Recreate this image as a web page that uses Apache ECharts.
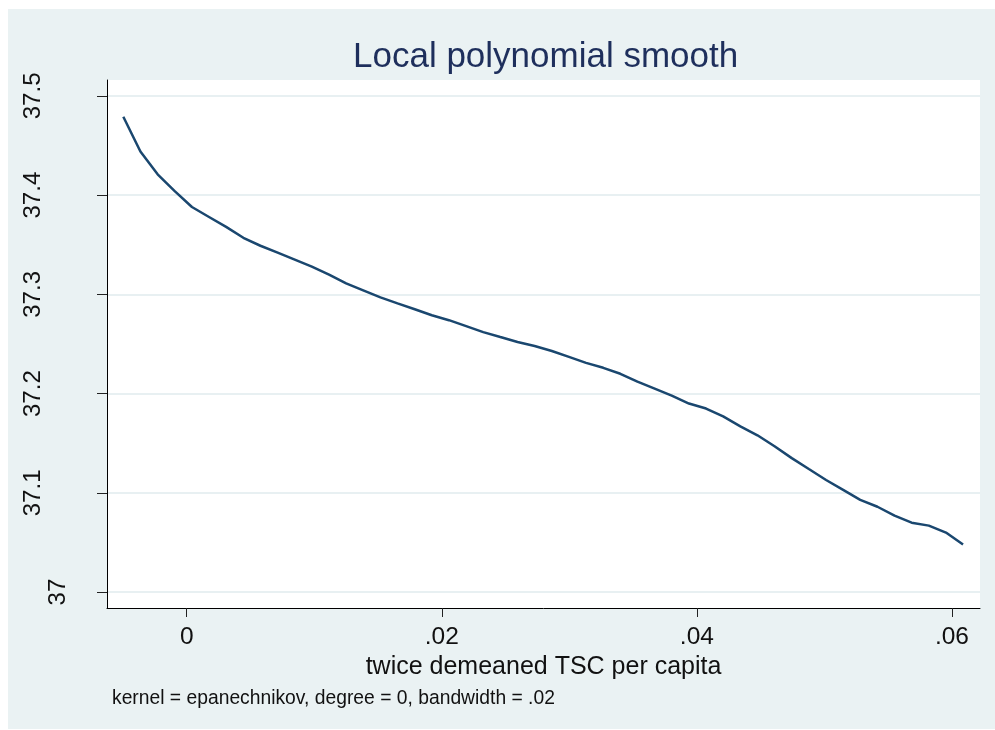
<!DOCTYPE html>
<html>
<head>
<meta charset="utf-8">
<script src="https://cdn.jsdelivr.net/npm/echarts@6/dist/echarts.min.js"></script>
<style>
  html, body { margin: 0; padding: 0; background: #ffffff; }
  #chart { position: absolute; left: 8px; top: 9px; width: 987px; height: 720px; }
</style>
</head>
<body>
<div id="chart"></div>
<script>
// Evaluation grid of the smoother (x) and the smoothed values (y)
const gridX = [
  -0.00497, -0.00363, -0.00228, -0.00094, 0.00041, 0.00175, 0.00309, 0.00444, 0.00578, 0.00713,
  0.00847, 0.00981, 0.01116, 0.01250, 0.01384, 0.01519, 0.01653, 0.01788, 0.01922, 0.02056,
  0.02191, 0.02325, 0.02459, 0.02594, 0.02728, 0.02863, 0.02997, 0.03131, 0.03266, 0.03400,
  0.03534, 0.03669, 0.03803, 0.03938, 0.04072, 0.04206, 0.04341, 0.04475, 0.04609, 0.04744,
  0.04878, 0.05013, 0.05147, 0.05281, 0.05416, 0.05550, 0.05684, 0.05819, 0.05953, 0.06087
];
const smoothY = [
  37.479, 37.444, 37.421, 37.404, 37.388, 37.378, 37.368, 37.357, 37.349, 37.342,
  37.335, 37.328, 37.320, 37.311, 37.304, 37.297, 37.291, 37.285, 37.279, 37.274,
  37.268, 37.262, 37.257, 37.252, 37.248, 37.243, 37.237, 37.231, 37.226, 37.220,
  37.212, 37.205, 37.198, 37.190, 37.185, 37.177, 37.167, 37.158, 37.147, 37.135,
  37.124, 37.113, 37.103, 37.093, 37.086, 37.077, 37.070, 37.067, 37.060, 37.048
];

// Tick positions and their printed labels
const xTickValues = [0, 0.02, 0.04, 0.06];
const xTickLabels = ['0', '.02', '.04', '.06'];
const yTickValues = [37, 37.1, 37.2, 37.3, 37.4, 37.5];
const yTickLabels = ['37', '37.1', '37.2', '37.3', '37.4', '37.5'];

const titleText = 'Local polynomial smooth';
const xAxisTitle = 'twice demeaned TSC per capita';
const noteText = 'kernel = epanechnikov, degree = 0, bandwidth = .02';

const FONT = '"Liberation Sans", Arial, sans-serif';
const labelIndex = (values, v) => values.findIndex(t => Math.abs(t - v) < 1e-9);

const chart = echarts.init(document.getElementById('chart'), null, { renderer: 'canvas' });
chart.setOption({
  backgroundColor: '#eaf2f3',
  animation: false,
  title: [
    {
      text: titleText,
      left: 340,
      top: 26,
      textStyle: { fontFamily: FONT, fontSize: 35, fontWeight: 'normal', color: '#1e2f5c' }
    },
    {
      text: noteText,
      left: 99,
      top: 675,
      textStyle: { fontFamily: FONT, fontSize: 19.3, fontWeight: 'normal', color: '#111111' }
    }
  ],
  grid: {
    left: 99, top: 71, width: 873, height: 528,
    show: true, backgroundColor: '#ffffff', borderWidth: 0
  },
  xAxis: {
    type: 'value',
    min: -0.00625,
    max: 0.0622,
    name: xAxisTitle,
    nameLocation: 'middle',
    nameGap: 42,
    nameTextStyle: { fontFamily: FONT, fontSize: 25, color: '#111111' },
    axisLine: { show: true, onZero: false, lineStyle: { color: '#000000', width: 1 } },
    axisTick: { show: true, length: 9, customValues: xTickValues, lineStyle: { color: '#222222', width: 1 } },
    axisLabel: {
      customValues: xTickValues,
      formatter: v => {
        const i = labelIndex(xTickValues, v);
        return i >= 0 ? xTickLabels[i] : '';
      },
      margin: 17,
      fontFamily: FONT, fontSize: 24.5, color: '#111111'
    },
    splitLine: { show: false }
  },
  yAxis: {
    type: 'value',
    min: 36.984,
    max: 37.516,
    axisLine: { show: true, onZero: false, lineStyle: { color: '#000000', width: 1 } },
    axisTick: { show: true, length: 10, customValues: yTickValues, lineStyle: { color: '#222222', width: 1 } },
    axisLabel: {
      customValues: yTickValues,
      // longer labels sit further from the axis than the short "37"
      formatter: v => {
        const i = labelIndex(yTickValues, v);
        if (i < 0) return '';
        const s = yTickLabels[i];
        return s.length > 2 ? '{far|' + s + '}' : '{near|' + s + '}';
      },
      rotate: 90,
      margin: 37,
      fontFamily: FONT, fontSize: 24, color: '#111111',
      rich: {
        far: { fontFamily: FONT, fontSize: 24, color: '#111111', padding: [0, 0, 25, 0] },
        near: { fontFamily: FONT, fontSize: 24, color: '#111111' }
      }
    },
    splitLine: { show: true, lineStyle: { color: '#e8f0f2', width: 2 } }
  },
  series: [
    {
      type: 'line',
      data: gridX.map((x, i) => [x, smoothY[i]]),
      showSymbol: false,
      smooth: false,
      lineStyle: { color: '#1a476f', width: 2.5 },
      z: 3
    }
  ]
});
</script>
</body>
</html>
